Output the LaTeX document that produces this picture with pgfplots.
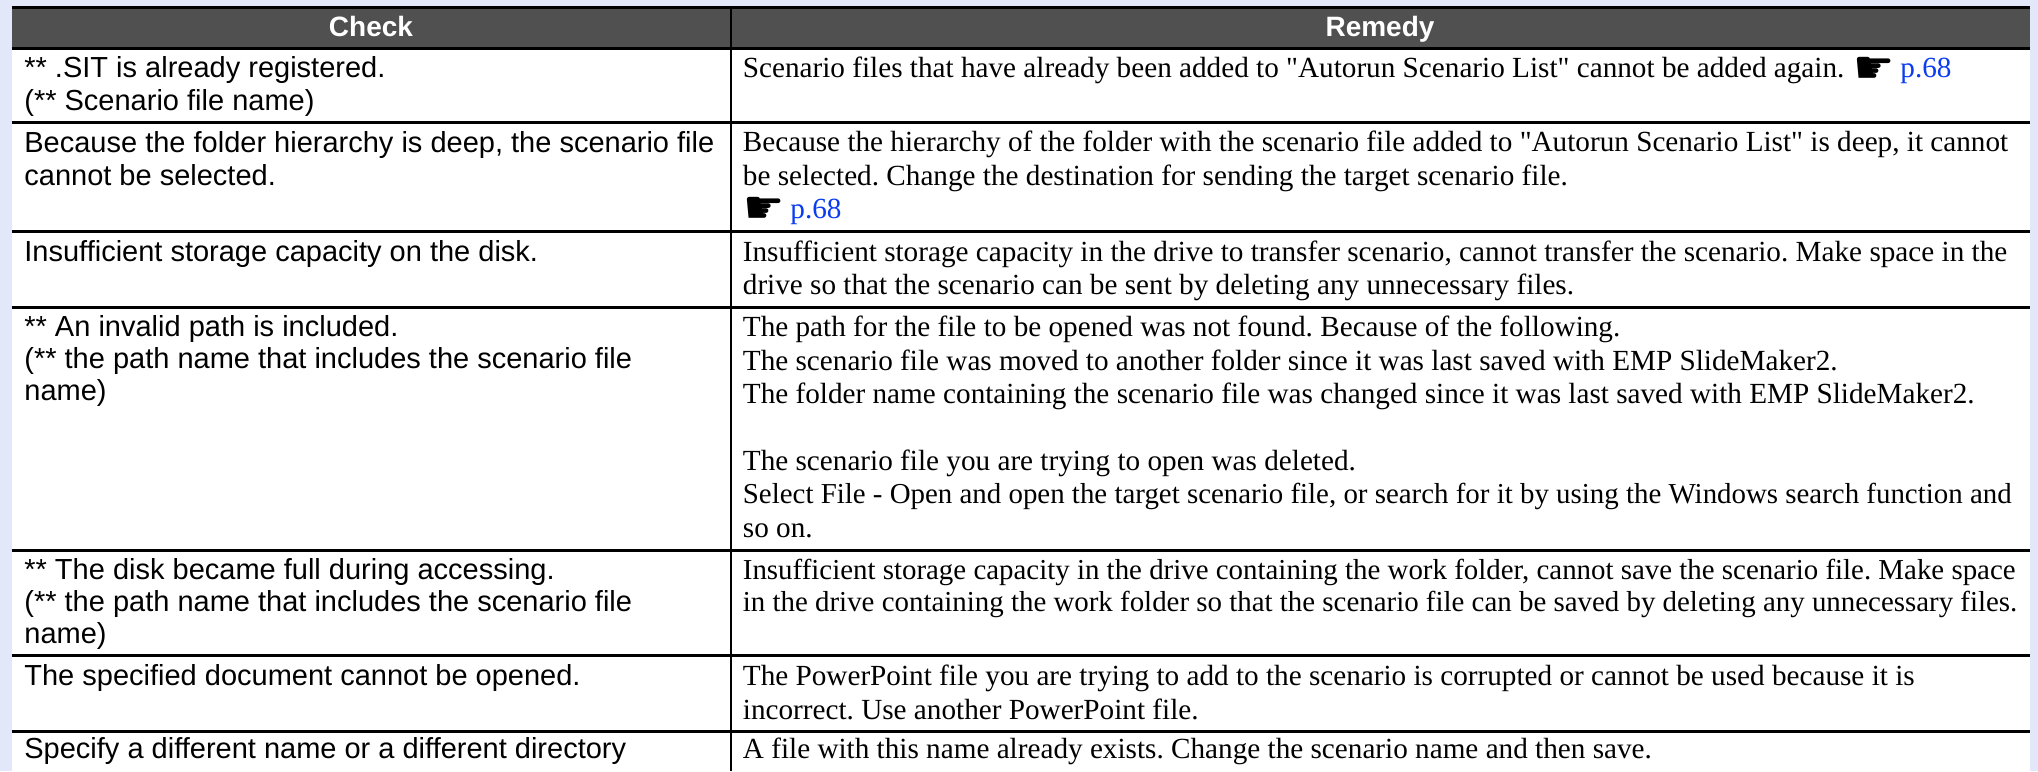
\documentclass[border=0pt]{standalone}
\usepackage{pgfplots}
\pgfplotsset{compat=1.18}
\usepackage{fontspec}
\setmainfont{Liberation Sans}
\newfontfamily\tms{Liberation Serif}
\newfontfamily\djv{DejaVu Sans}
\definecolor{bgc}{HTML}{E3E7FA}
\definecolor{hdc}{HTML}{505050}
\definecolor{lnk}{HTML}{0A3CF0}
\frenchspacing
\newcommand{\lfont}{\fontsize{14.5}{16}\selectfont}
\newcommand{\rfont}{\fontsize{14.6}{16}\tms\selectfont}
\newcommand{\rfontb}{\fontsize{14.45}{16}\tms\selectfont}
\newcommand{\CL}[2]{\node[anchor=base west,inner sep=0pt,font=\lfont] at (axis cs:24,#1) {#2};}
\newcommand{\CR}[2]{\node[anchor=base west,inner sep=0pt,font=\rfont] at (axis cs:742.5,#1) {#2};}
\newcommand{\CRb}[2]{\node[anchor=base west,inner sep=0pt,font=\rfontb] at (axis cs:742.5,#1) {#2};}
\newcommand{\HAND}[4]{\node[anchor=base west,inner sep=0pt,font=\fontsize{23}{24}\djv\selectfont] at (axis cs:#1,#4) {\char"261B};
\node[anchor=base west,inner sep=0pt,font=\rfont,text=lnk] at (axis cs:#3,#2) {p.68};}
\begin{document}
\begin{tikzpicture}
\begin{axis}[scale only axis,width=1019pt,height=385.5pt,xmin=0,xmax=2038,ymin=0,ymax=771,y dir=reverse,hide axis,clip=true]
\addplot[fill=bgc,draw=none] coordinates {(0,0)(2038,0)(2038,771)(0,771)} --cycle;
\addplot[fill=white,draw=none] coordinates {(11.5,7)(2030,7)(2030,771)(11.5,771)} --cycle;
\addplot[fill=hdc,draw=none] coordinates {(11.5,7)(2030,7)(2030,48)(11.5,48)} --cycle;
\pgfplotsinvokeforeach{7.5,48.5,122.5,231.7,307.7,550,655.7,731}{
\addplot[black,line width=1.5pt] coordinates {(11.5,#1)(2030,#1)};
}
\addplot[black,line width=1pt] coordinates {(730.5,7)(730.5,771)};
\node[anchor=base,inner sep=0pt,text=white,font=\fontsize{14}{16}\bfseries\selectfont] at (axis cs:371,36) {Check};
\node[anchor=base,inner sep=0pt,text=white,font=\fontsize{14}{16}\bfseries\selectfont] at (axis cs:1380,36) {Remedy};
\CL{77}{** .SIT is already registered.}
\CL{110}{(** Scenario file name)}
\CL{152}{Because the folder hierarchy is deep, the scenario file}
\CL{185}{cannot be selected.}
\CL{261.5}{Insufficient storage capacity on the disk.}
\CL{336.5}{** An invalid path is included.}
\CL{368.5}{(** the path name that includes the scenario file}
\CL{400.5}{name)}
\CL{579}{** The disk became full during accessing.}
\CL{611.5}{(** the path name that includes the scenario file}
\CL{643.5}{name)}
\CL{685.5}{The specified document cannot be opened.}
\CL{758}{Specify a different name or a different directory}
\CR{77.7}{Scenario files that have already been added to "Autorun Scenario List" cannot be added again.}
\HAND{1853}{77.7}{1900}{83}
\CR{151.7}{Because the hierarchy of the folder with the scenario file added to "Autorun Scenario List" is deep, it cannot}
\CR{185}{be selected. Change the destination for sending the target scenario file.}
\HAND{743}{218.3}{790}{223.5}
\CR{261.3}{Insufficient storage capacity in the drive to transfer scenario, cannot transfer the scenario. Make space in the}
\CR{294.7}{drive so that the scenario can be sent by deleting any unnecessary files.}
\CR{336.7}{The path for the file to be opened was not found. Because of the following.}
\CR{370.3}{The scenario file was moved to another folder since it was last saved with EMP SlideMaker2.}
\CR{403.3}{The folder name containing the scenario file was changed since it was last saved with EMP SlideMaker2.}
\CR{470}{The scenario file you are trying to open was deleted.}
\CRb{503.7}{Select File - Open and open the target scenario file, or search for it by using the Windows search function and}
\CR{537.3}{so on.}
\CRb{579}{Insufficient storage capacity in the drive containing the work folder, cannot save the scenario file. Make space}
\CRb{611.7}{in the drive containing the work folder so that the scenario file can be saved by deleting any unnecessary files.}
\CR{685.7}{The PowerPoint file you are trying to add to the scenario is corrupted or cannot be used because it is}
\CR{719}{incorrect. Use another PowerPoint file.}
\CR{758.3}{A file with this name already exists. Change the scenario name and then save.}
\end{axis}
\end{tikzpicture}
\end{document}
